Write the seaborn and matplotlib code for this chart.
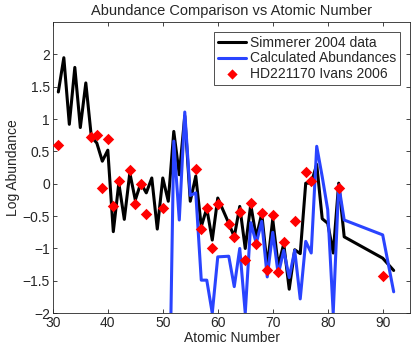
import matplotlib
matplotlib.use("Agg")
import matplotlib.pyplot as plt
import seaborn as sns
import pandas as pd

sim_z = [31,32,33,34,35,36,37,38,39,40,41,42,43,44,45,46,47,48,49,50,51,52,53,54,55,56,57,58,59,60,
         62,63,64,65,66,67,68,69,70,71,72,73,74,75,76,77,78,79,80,81,82,83,90,92]
sim_v = [1.42,1.95,0.92,1.80,0.87,1.56,0.73,0.63,0.35,0.52,-0.74,0.01,-0.55,0.17,-0.25,0.01,-0.14,0.09,-0.70,0.09,
         -0.27,0.81,0.14,1.05,-0.27,0.12,-0.66,-0.38,-0.87,-0.22,
         -0.61,-0.82,-0.35,-1.0,-0.32,-0.83,-0.46,-1.28,-0.55,-1.27,-0.93,-1.63,-1.02,-1.08,0.01,0.01,0.30,-0.54,-0.61,-1.07,0.01,-0.82,-1.15,-1.34]

calc_z = [51,52,53,54,55,56,57,58,59,60,62,63,64,65,66,67,68,69,70,71,72,73,74,75,76,77,78,79,80,81,82,83,90,92]
calc_v = [-4.5,0.66,-0.56,1.11,-0.18,-0.14,-1.49,-1.49,-2.0,-1.13,-1.12,-1.59,-1.0,-2.0,-0.60,-0.92,-0.58,-1.44,-0.75,-1.40,
          -1.03,-1.45,-1.03,-1.78,-0.89,-1.07,0.58,0.11,-0.40,-2.0,-0.02,-0.56,-0.79,-1.67]

ivans_z = [31,37,38,39,40,41,42,44,45,46,47,50,56,57,58,59,60,62,63,64,65,66,67,68,69,70,71,72,74,76,77,82,90]
ivans_v = [0.60,0.72,0.76,-0.06,0.70,-0.34,0.04,0.22,-0.31,0.0,-0.47,-0.37,0.23,-0.70,-0.38,-1.0,-0.31,-0.62,-0.82,-0.43,
           -1.18,-0.29,-0.93,-0.45,-1.34,-0.48,-1.36,-0.90,-0.57,0.18,0.05,-0.07,-1.43]

x_ticks = [30,40,50,60,70,80,90]
y_ticks = [-2,-1.5,-1,-0.5,0,0.5,1,1.5,2]

sns.set_style("ticks")
plt.rcParams['font.family'] = ['Liberation Sans', 'DejaVu Sans']
plt.rcParams['axes.unicode_minus'] = True

fig = plt.figure(figsize=(4.16, 3.46), dpi=100)
ax = fig.add_axes([0.127, 0.095, 0.859, 0.841])

sim = pd.DataFrame({"Z": sim_z, "v": sim_v})
calc = pd.DataFrame({"Z": calc_z, "v": calc_v})
iv = pd.DataFrame({"Z": ivans_z, "v": ivans_v})

sns.lineplot(data=sim, x="Z", y="v", color="black", linewidth=2.2, label="Simmerer 2004 data", ax=ax, sort=False)
sns.lineplot(data=calc, x="Z", y="v", color="#2a44ff", linewidth=2.2, label="Calculated Abundances", ax=ax, sort=False)
sns.scatterplot(data=iv, x="Z", y="v", color="red", marker="D", s=34, edgecolor="red", linewidth=0,
                label="HD221170 Ivans 2006", ax=ax, zorder=5)

ax.set_xlim(30, 95)
ax.set_ylim(-2, 2.5)
ax.set_xticks(x_ticks)
ax.set_xticklabels([str(t) for t in x_ticks])
ax.set_yticks(y_ticks)
ax.set_yticklabels([("\u2212" if t < 0 else "") + ("%g" % abs(t)) for t in y_ticks])
ax.tick_params(direction="in", top=True, right=True, labelsize=10, length=3, width=0.6, pad=2)
for s in ax.spines.values():
    s.set_visible(True)
    s.set_linewidth(0.6)
ax.set_xlabel("Atomic Number", fontsize=10, labelpad=1)
ax.set_ylabel("Log Abundance", fontsize=10, labelpad=2)
ax.set_title("Abundance Comparison vs Atomic Number", fontsize=10.5, pad=5)

leg = ax.legend(loc="upper right", fontsize=10, frameon=True, fancybox=False, edgecolor="black",
                borderaxespad=0.7, handlelength=2.0, handletextpad=0.3, labelspacing=0.1, borderpad=0.3,
                markerscale=0.9)
leg.get_frame().set_linewidth(0.6)

fig.savefig("out.png", dpi=100)
